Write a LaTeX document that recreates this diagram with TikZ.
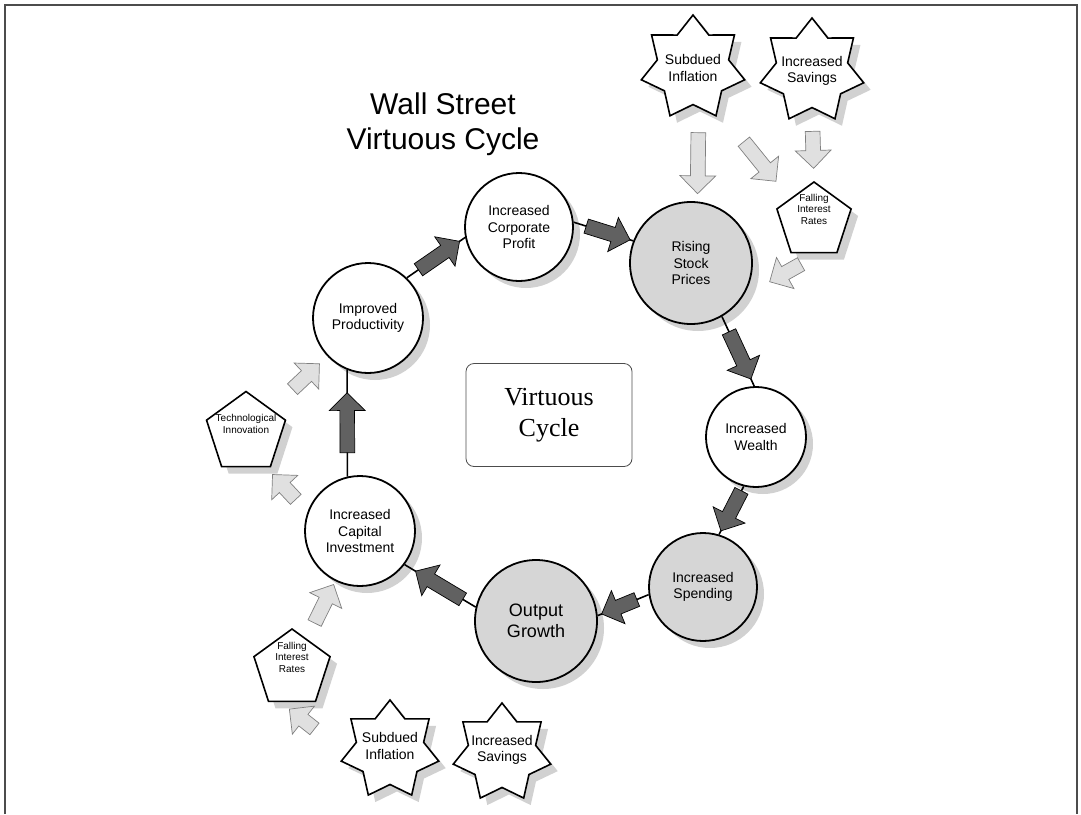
\documentclass[tikz,border=0pt]{standalone}
\usepackage{fontspec}
\setmainfont{Liberation Sans}
\newfontfamily\boxfont{Liberation Serif}
\usetikzlibrary{shapes.geometric,shapes.arrows,shadows}

\begin{document}
\begin{tikzpicture}[x=1pt,y=-1pt,
  soft shadow/.style={drop shadow={shadow xshift=7pt,shadow yshift=-7pt,fill=black!18,opacity=1}},
  cycle node/.style={circle,draw,line width=1.8pt,fill=white,inner sep=0pt,align=center,font=\fontsize{14}{16.5}\selectfont,soft shadow},
  hot node/.style={cycle node,fill=black!16},
  burst node/.style={star,star points=7,star point ratio=1.45,draw,line width=1.6pt,fill=white,minimum size=106pt,inner sep=0pt,soft shadow},
  burst text/.style={font=\fontsize{14}{16.5}\selectfont,align=center},
  side node/.style={regular polygon,regular polygon sides=5,draw,line width=1.6pt,fill=white,inner sep=0pt,soft shadow},
  side text/.style={font=\fontsize{10}{11.5}\selectfont,align=center,yshift=12pt},
  link/.style={line width=1.6pt},
  dark arrow/.style={single arrow,draw=black,line width=.7pt,fill=black!62,inner sep=7pt,single arrow head extend=10.5pt,minimum width=35pt,sloped,allow upside down},
  light arrow/.style={single arrow,draw=black!50,line width=.7pt,fill=black!12,inner sep=7pt,single arrow head extend=10.5pt,minimum width=35pt,sloped,allow upside down}]
  \useasboundingbox (0,0) rectangle (1081,814);
  \draw[line width=2pt,black!70] (5,814) -- (5,5) -- (1077,5) -- (1077,814);

  \node[font=\fontsize{30}{35}\selectfont,align=center] (title) at (443,124) {Wall Street\\Virtuous Cycle};
  \node[draw=black!70,line width=.8pt,rounded corners=8pt,minimum width=166pt,minimum height=103pt,font=\boxfont\fontsize{26}{31}\selectfont,align=center] (VC) at (549,415) {Virtuous\\Cycle};

  % the cycle
  \node[cycle node,minimum size=108pt] (ICP) at (519,227) {Increased\\Corporate\\Profit};
  \node[hot node,minimum size=122pt] (RSP) at (691,263) {Rising\\Stock\\Prices};
  \node[cycle node,minimum size=100pt] (IW) at (756,437) {Increased\\Wealth};
  \node[hot node,minimum size=108pt] (IS) at (703,587) {Increased\\Spending};
  \node[hot node,minimum size=122pt,font=\fontsize{18}{21}\selectfont] (OG) at (536,621) {Output\\Growth};
  \node[cycle node,minimum size=110pt] (ICI) at (360,531) {Increased\\Capital\\Investment};
  \node[cycle node,minimum size=110pt] (IP) at (368,318) {Improved\\Productivity};

  % outside factors
  \node[burst node,label={[burst text]center:Subdued\\Inflation}] (SIt) at (693,68) {};
  \node[burst node,label={[burst text]center:Increased\\Savings}] (ISt) at (812,71) {};
  \node[burst node,minimum size=100pt,label={[burst text,yshift=4pt]center:Subdued\\Inflation}] (SIb) at (390,750) {};
  \node[burst node,minimum size=100pt,label={[burst text,yshift=3pt]center:Increased\\Savings}] (ISb) at (502,753) {};
  \node[side node,minimum size=78pt,label={[side text]center:Falling\\Interest\\Rates}] (FIRt) at (814,221) {};
  \node[side node,minimum size=83pt,label={[side text,yshift=-3pt]center:Technological\\Innovation}] (Tech) at (246,433) {};
  \node[side node,minimum size=80pt,label={[side text]center:Falling\\Interest\\Rates}] (FIRb) at (292,669) {};

  \draw[link] (IP.46) -- node[dark arrow,pos=.5,minimum height=50pt] {} (ICP.191);
  \draw[link] (ICP.5) -- node[dark arrow,pos=.52,minimum height=46pt] {} (RSP.159);
  \draw[link] (RSP.-60) -- node[dark arrow,pos=.51,minimum height=52pt] {} (IW.92);
  \draw[link] (IW.-104) -- node[dark arrow,pos=.44,minimum height=45pt] {} (IS.73);
  \draw[link] (IS.188) -- node[dark arrow,pos=.51,minimum height=38pt] {} (OG.5);
  \draw[link] (OG.167) -- node[dark arrow,pos=.47,minimum height=55pt] {} (ICI.-37);
  \draw[link] (ICI.103) -- node[dark arrow,pos=.47,minimum height=60pt] {} (IP.-112);

  \path (SIt.-82) -- node[light arrow,pos=.55,minimum height=61pt] {} (RSP.84);
  \path (SIt.-59) -- node[light arrow,pos=.55,minimum height=51pt] {} (FIRt.137);
  \path (ISt.-90) -- node[light arrow,pos=.52,minimum height=37pt] {} (FIRt.90);
  \path (FIRt.-79) -- node[light arrow,pos=.41,minimum height=36pt] {} (RSP.-33);
  \path (Tech) -- node[light arrow,pos=.57,minimum height=37pt] {} (IP);
  \path (ICI.160) -- node[light arrow,pos=.5,minimum height=34pt] {} (Tech.-60);
  \path (FIRb) -- node[light arrow,pos=.55,minimum height=43pt] {} (ICI);
  \path (SIb.185) -- node[light arrow,pos=.63,minimum height=32pt] {} (FIRb.-109);
\end{tikzpicture}
\end{document}
